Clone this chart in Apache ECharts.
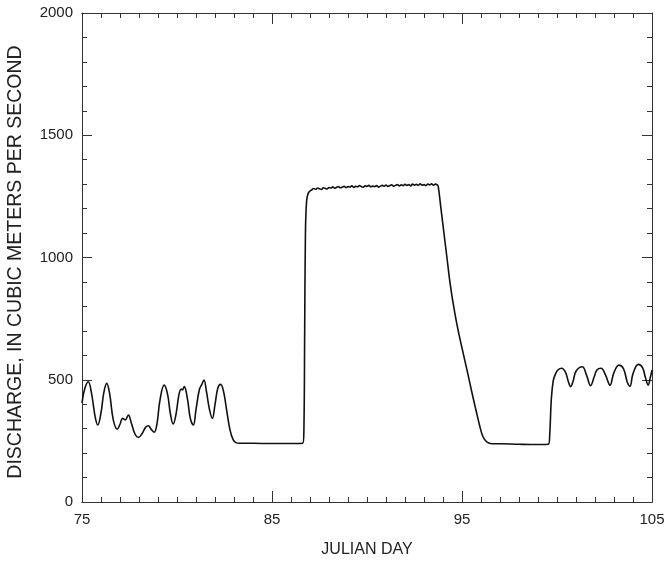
<!DOCTYPE html>
<html>
<head>
<meta charset="utf-8">
<script src="https://cdn.jsdelivr.net/npm/echarts@6/dist/echarts.min.js"></script>
<style>
html,body{margin:0;padding:0;background:#fff;}
#chart{width:664px;height:561px;}
</style>
</head>
<body>
<div id="chart"></div>
<script>
// Julian day values
const days = [
  75.0, 75.15, 75.33, 75.5, 75.7, 75.83, 76.0, 76.15, 76.3, 76.45, 76.65, 76.86,
  77.0, 77.14, 77.28, 77.44, 77.6, 77.8, 77.97, 78.15, 78.35, 78.49, 78.65, 78.8,
  78.95, 79.1, 79.32, 79.5, 79.65, 79.8, 79.95, 80.1, 80.22, 80.28, 80.38, 80.55,
  80.7, 80.86, 81.0, 81.18, 81.3, 81.42, 81.55, 81.7, 81.86, 82.0, 82.15, 82.3,
  82.45, 82.6, 82.79, 82.96, 83.1, 83.3, 84.0, 85.0, 86.0, 86.62,
  86.68, 86.72, 86.76, 86.82, 86.9, 87.0,
  87.1, 87.2, 87.3, 87.4, 87.5, 87.6, 87.7, 87.8, 87.9, 88.0,
  88.1, 88.2, 88.3, 88.4, 88.5, 88.6, 88.7, 88.8, 88.9, 89.0,
  89.1, 89.2, 89.3, 89.4, 89.5, 89.6, 89.7, 89.8, 89.9, 90.0,
  90.1, 90.2, 90.3, 90.4, 90.5, 90.6, 90.7, 90.8, 90.9, 91.0,
  91.1, 91.2, 91.3, 91.4, 91.5, 91.6, 91.7, 91.8, 91.9, 92.0,
  92.1, 92.2, 92.3, 92.4, 92.5, 92.6, 92.7, 92.8, 92.9, 93.0,
  93.1, 93.2, 93.3, 93.4, 93.5, 93.6, 93.7,
  93.75, 93.89, 94.05, 94.21, 94.37, 94.54, 94.71, 94.89, 95.07, 95.29, 95.51,
  95.74, 95.95, 96.1, 96.3, 96.58,
  97.0, 98.0, 99.0, 99.55, 99.62, 99.7, 99.8, 99.9, 100.05, 100.25, 100.45, 100.6, 100.72,
  100.85, 101.0, 101.33, 101.55, 101.77, 101.95, 102.1, 102.32, 102.55, 102.79, 103.0,
  103.26, 103.5, 103.7, 103.84, 104.0, 104.28, 104.5, 104.65, 104.8, 104.9, 105.0
];
// Discharge, in cubic meters per second
const discharge = [
  405, 465, 492, 445, 345, 315, 365, 448, 485, 445, 335, 298,
  318, 342, 336, 356, 322, 276, 264, 278, 306, 312, 296, 285,
  322, 415, 478, 442, 362, 319, 360, 438, 462, 458, 472, 422,
  342, 315, 378, 461, 480, 499, 452, 382, 342, 398, 466, 481,
  452, 382, 294, 254, 243, 240, 240, 239, 239, 240,
  300, 700, 1100, 1230, 1262, 1272,
  1277, 1282, 1279, 1284, 1281, 1278, 1285, 1283, 1280, 1286,
  1284, 1289, 1283, 1287, 1290, 1285, 1288, 1291, 1286, 1290,
  1288, 1293, 1287, 1291, 1289, 1294, 1290, 1288, 1293, 1291,
  1295, 1289, 1292, 1290, 1294, 1288, 1291, 1295, 1292, 1296,
  1291, 1294, 1297, 1292, 1295, 1298, 1293, 1297, 1294, 1299,
  1295, 1298, 1293, 1300, 1296, 1299, 1295, 1301, 1296, 1298,
  1294, 1300, 1297, 1301, 1296, 1300, 1297,
  1290, 1202, 1100, 998, 896, 810, 736, 668, 606, 530, 452,
  374, 306, 268, 246, 238,
  238, 236, 235, 236, 280, 420, 495, 520, 540, 547, 530, 492, 472,
  495, 535, 553, 520, 476, 510, 540, 547, 520, 478, 530,
  560, 545, 490, 474, 525, 563, 550, 510, 478, 505, 540
];
const xMajorTicks = [75, 85, 95, 105];

const FONT = "'Liberation Sans', Arial, Helvetica, sans-serif";
const INK = '#222';
const lineStyle = { color: '#333', width: 1 };

const chart = echarts.init(document.getElementById('chart'), null, { renderer: 'canvas' });

function xAxisCfg(position, major, withLabels) {
  const ax = {
    type: 'value', min: 75, max: 105, position: position,
    axisLine: { show: true, onZero: false, lineStyle: lineStyle },
    splitLine: { show: false },
    axisTick: { show: true, inside: true, length: major ? 11 : 5, lineStyle: lineStyle },
    axisLabel: { show: false }
  };
  if (major) {
    ax.axisTick.customValues = xMajorTicks;
  } else {
    ax.interval = 1;
  }
  if (withLabels) {
    ax.axisLabel = { show: true, customValues: xMajorTicks, margin: 10, fontSize: 15, color: INK, fontFamily: FONT };
    ax.name = 'JULIAN DAY';
    ax.nameLocation = 'middle';
    ax.nameGap = 40;
    ax.nameTextStyle = { fontSize: 16, color: INK, fontFamily: FONT };
  }
  return ax;
}

function yAxisCfg(position, withLabels) {
  const ax = {
    type: 'value', min: 0, max: 2000, interval: 500, position: position,
    axisLine: { show: true, onZero: false, lineStyle: lineStyle },
    splitLine: { show: false },
    axisTick: { show: true, inside: true, length: 10, lineStyle: lineStyle },
    minorTick: { show: true, splitNumber: 5, length: 5, lineStyle: lineStyle },
    minorSplitLine: { show: false },
    axisLabel: { show: withLabels, margin: 9, fontSize: 15, color: INK, fontFamily: FONT,
      formatter: function (v) { return String(v); } }
  };
  if (withLabels) {
    ax.name = 'DISCHARGE, IN CUBIC METERS PER SECOND';
    ax.nameLocation = 'middle';
    ax.nameGap = 56;
    ax.nameTextStyle = { fontSize: 19.5, color: INK, fontFamily: FONT, padding: [0, 9, 0, 0] };
  }
  return ax;
}

chart.setOption({
  backgroundColor: '#fff',
  animation: false,
  grid: { left: 82, right: 12, top: 13, bottom: 59, containLabel: false, outerBoundsMode: 'none' },
  xAxis: [
    xAxisCfg('bottom', false, true),
    xAxisCfg('bottom', true, false),
    xAxisCfg('top', false, false),
    xAxisCfg('top', true, false)
  ],
  yAxis: [
    yAxisCfg('left', true),
    yAxisCfg('right', false)
  ],
  series: [{
    type: 'line',
    xAxisIndex: 0,
    yAxisIndex: 0,
    showSymbol: false,
    smooth: 0.4,
    lineStyle: { color: '#111', width: 1.6 },
    data: days.map((d, i) => [d, discharge[i]])
  }]
});
</script>
</body>
</html>
